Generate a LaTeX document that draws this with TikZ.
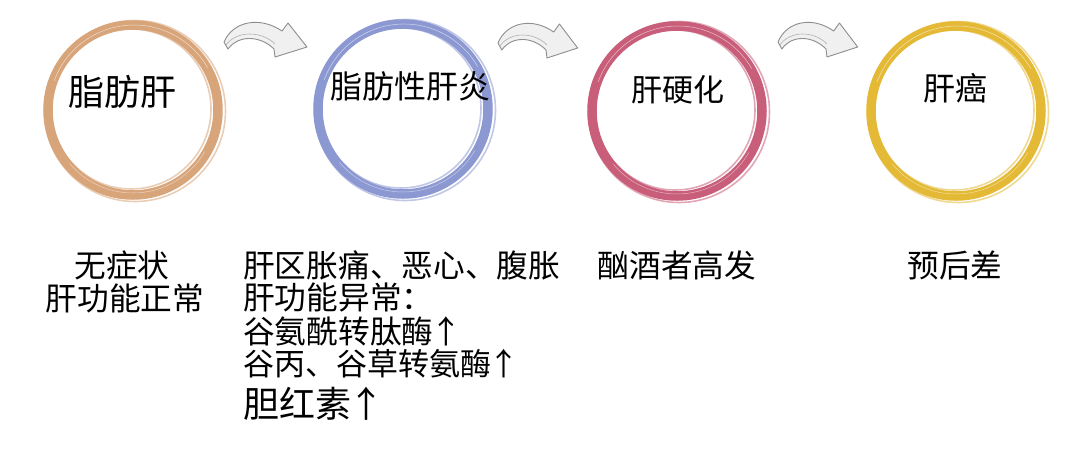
\documentclass[tikz,border=0pt]{standalone}
\usepackage{fontspec}
\newfontfamily\cjk{Noto Sans CJK SC}
\definecolor{cOrange}{HTML}{D8A47A}
\definecolor{cBlue}{HTML}{8C98D2}
\definecolor{cPink}{HTML}{C85E79}
\definecolor{cYellow}{HTML}{E4B935}
\definecolor{arrowLine}{HTML}{8E8E8E}
\definecolor{arrowFill}{HTML}{F0F0F0}
\tikzset{
  ringmain/.style={line width=9.5pt},
  ringtex/.style={line width=1.6pt, opacity=0.55},
  title/.style={font=\cjk\fontsize{32}{36}\selectfont, inner sep=0pt},
  desc/.style={font=\cjk\fontsize{31.7}{36}\selectfont, inner sep=0pt},
  curvearrow/.pic={
    \path[fill=arrowFill, draw=arrowLine, line width=0.9pt, line join=round]
      (0,0) .. controls (9,-21) and (36,-26) .. (58,-11)
      -- (64,-19) -- (83,5) -- (51,15) -- (50,7)
      .. controls (37,-6) and (15,-8) .. (4,7) -- cycle;
    \path[draw=arrowLine!70, line width=0.6pt]
      (2,3) .. controls (13,-12) and (38,-11) .. (51,2);
  }
}
\begin{document}
\begin{tikzpicture}[x=1pt, y=-1pt]
\useasboundingbox[fill=white] (0,0) rectangle (1080,448);

% rings
\foreach \cx/\cy/\col/\nm in {133/110/cOrange/r1, 403/109/cBlue/r2, 677/111/cPink/r3, 956/111/cYellow/r4}{
  \coordinate (\nm) at (\cx,\cy);
  \draw[ringmain, \col] (\nm) circle[radius=85];
  \draw[ringtex, \col] ([shift={(2,1)}]\nm) circle[radius=90.5];
  \draw[ringtex, \col] ([shift={(-2,-1)}]\nm) circle[radius=80];
  \draw[line width=0.5pt, white, opacity=0.6] ([shift={(1,0)}]\nm) ++(200:85) arc[start angle=200, end angle=330, radius=85];
  \draw[line width=0.5pt, white, opacity=0.5] (\nm) ++(30:83) arc[start angle=30, end angle=140, radius=83];
}

% titles
\node[title, font=\cjk\fontsize{36}{40}\selectfont] (t1) at (122,92) {脂肪肝};
\node[title, font=\cjk\fontsize{32}{36}\selectfont] (t2) at (410,86) {脂肪性肝炎};
\node[title, font=\cjk\fontsize{31}{36}\selectfont] (t3) at (678,90) {肝硬化};
\node[title, font=\cjk\fontsize{32}{36}\selectfont] (t4) at (955,88) {肝癌};

% arrows
\pic (a1) at (224,42) {curvearrow};
\pic[xscale=0.96] (a2) at (498,43) {curvearrow};
\pic[xscale=0.96] (a3) at (778,42) {curvearrow};

% descriptions
\node[desc] (d1a) at (122,265) {无症状};
\node[desc] (d1b) at (125,298) {肝功能正常};

\node[desc, anchor=west] (d2a) at (243,265) {肝区胀痛、恶心、腹胀};
\node[desc, anchor=west] (d2b) at (243,297) {肝功能异常：};
\node[desc, anchor=west] (d2c) at (243,331) {谷氨酰转肽酶\kern-3pt↑};
\node[desc, anchor=west, font=\cjk\fontsize{31}{36}\selectfont] (d2d) at (243,364) {谷丙、谷草转氨酶\kern-3pt↑};
\node[desc, anchor=west, font=\cjk\fontsize{36}{40}\selectfont] (d2e) at (243,404) {胆红素\kern-3pt↑};

\node[desc] (d3) at (677,265) {酗酒者高发};
\node[desc] (d4) at (955,265) {预后差};
\end{tikzpicture}
\end{document}
